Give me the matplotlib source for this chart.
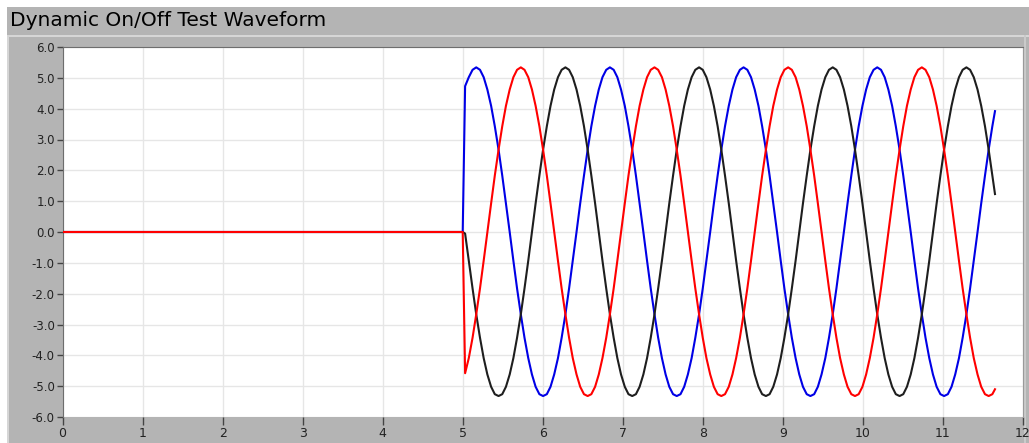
import matplotlib.pyplot as plt
from matplotlib.patches import Rectangle
from matplotlib.ticker import FormatStrFormatter, MultipleLocator

# sample times (s), flat zero until the switch-on at 5 s
t = [0.0, 5.0,
     5.030, 5.076, 5.123, 5.169, 5.216, 5.262, 5.308, 5.355, 5.401, 5.448, 5.494, 5.540,
     5.587, 5.633, 5.679, 5.726, 5.772, 5.819, 5.865, 5.911, 5.958, 6.004, 6.051, 6.097,
     6.143, 6.190, 6.236, 6.283, 6.329, 6.375, 6.422, 6.468, 6.515, 6.561, 6.607, 6.654,
     6.700, 6.746, 6.793, 6.839, 6.886, 6.932, 6.978, 7.025, 7.071, 7.118, 7.164, 7.210,
     7.257, 7.303, 7.349, 7.396, 7.442, 7.489, 7.535, 7.581, 7.628, 7.674, 7.721, 7.767,
     7.813, 7.860, 7.906, 7.953, 7.999, 8.045, 8.092, 8.138, 8.185, 8.231, 8.277, 8.324,
     8.370, 8.416, 8.463, 8.509, 8.556, 8.602, 8.648, 8.695, 8.741, 8.788, 8.834, 8.880,
     8.927, 8.973, 9.019, 9.066, 9.112, 9.159, 9.205, 9.251, 9.298, 9.344, 9.391, 9.437,
     9.483, 9.530, 9.576, 9.623, 9.669, 9.715, 9.762, 9.808, 9.855, 9.901, 9.947, 9.994,
     10.040, 10.086, 10.133, 10.179, 10.226, 10.272, 10.318, 10.365, 10.411, 10.458,
     10.504, 10.550, 10.597, 10.643, 10.689, 10.736, 10.782, 10.829, 10.875, 10.921,
     10.968, 11.014, 11.061, 11.107, 11.153, 11.200, 11.246, 11.293, 11.339, 11.385,
     11.432, 11.478, 11.525, 11.571, 11.617, 11.650]

blue = [0.0, 0.0,
        4.73, 5.02, 5.26, 5.34, 5.26, 5.02, 4.62, 4.09, 3.43, 2.67, 1.83, 0.93,
        0.00, -0.93, -1.83, -2.67, -3.43, -4.09, -4.62, -5.02, -5.26, -5.32, -5.26, -5.02,
        -4.62, -4.09, -3.43, -2.67, -1.83, -0.93, 0.00, 0.93, 1.83, 2.67, 3.43, 4.09,
        4.62, 5.02, 5.26, 5.34, 5.26, 5.02, 4.62, 4.09, 3.43, 2.67, 1.83, 0.93,
        0.00, -0.93, -1.83, -2.67, -3.43, -4.09, -4.62, -5.02, -5.26, -5.32, -5.26, -5.02,
        -4.62, -4.09, -3.43, -2.67, -1.83, -0.93, 0.00, 0.93, 1.83, 2.67, 3.43, 4.09,
        4.62, 5.02, 5.26, 5.34, 5.26, 5.02, 4.62, 4.09, 3.43, 2.67, 1.83, 0.93,
        0.00, -0.93, -1.83, -2.67, -3.43, -4.09, -4.62, -5.02, -5.26, -5.32, -5.26, -5.02,
        -4.62, -4.09, -3.43, -2.67, -1.83, -0.93, 0.00, 0.93, 1.83, 2.67, 3.43, 4.09,
        4.62, 5.02, 5.26, 5.34, 5.26, 5.02, 4.62, 4.09, 3.43, 2.67, 1.83, 0.93,
        0.00, -0.93, -1.83, -2.67, -3.43, -4.09, -4.62, -5.02, -5.26, -5.32, -5.26, -5.02,
        -4.62, -4.09, -3.43, -2.67, -1.83, -0.93, 0.00, 0.93, 1.83, 2.67, 3.43, 3.92]

black = [0.0, 0.0,
         -0.05, -0.93, -1.83, -2.67, -3.43, -4.09, -4.62, -5.02, -5.26, -5.32, -5.26, -5.02,
         -4.62, -4.09, -3.43, -2.67, -1.83, -0.93, 0.00, 0.93, 1.83, 2.67, 3.43, 4.09,
         4.62, 5.02, 5.26, 5.34, 5.26, 5.02, 4.62, 4.09, 3.43, 2.67, 1.83, 0.93,
         0.00, -0.93, -1.83, -2.67, -3.43, -4.09, -4.62, -5.02, -5.26, -5.32, -5.26, -5.02,
         -4.62, -4.09, -3.43, -2.67, -1.83, -0.93, 0.00, 0.93, 1.83, 2.67, 3.43, 4.09,
         4.62, 5.02, 5.26, 5.34, 5.26, 5.02, 4.62, 4.09, 3.43, 2.67, 1.83, 0.93,
         0.00, -0.93, -1.83, -2.67, -3.43, -4.09, -4.62, -5.02, -5.26, -5.32, -5.26, -5.02,
         -4.62, -4.09, -3.43, -2.67, -1.83, -0.93, 0.00, 0.93, 1.83, 2.67, 3.43, 4.09,
         4.62, 5.02, 5.26, 5.34, 5.26, 5.02, 4.62, 4.09, 3.43, 2.67, 1.83, 0.93,
         0.00, -0.93, -1.83, -2.67, -3.43, -4.09, -4.62, -5.02, -5.26, -5.32, -5.26, -5.02,
         -4.62, -4.09, -3.43, -2.67, -1.83, -0.93, 0.00, 0.93, 1.83, 2.67, 3.43, 4.09,
         4.62, 5.02, 5.26, 5.34, 5.26, 5.02, 4.62, 4.09, 3.43, 2.67, 1.83, 1.23]

red = [0.0, 0.0,
       -4.58, -4.09, -3.43, -2.67, -1.83, -0.93, 0.00, 0.93, 1.83, 2.67, 3.43, 4.09,
       4.62, 5.02, 5.26, 5.34, 5.26, 5.02, 4.62, 4.09, 3.43, 2.67, 1.83, 0.93,
       0.00, -0.93, -1.83, -2.67, -3.43, -4.09, -4.62, -5.02, -5.26, -5.32, -5.26, -5.02,
       -4.62, -4.09, -3.43, -2.67, -1.83, -0.93, 0.00, 0.93, 1.83, 2.67, 3.43, 4.09,
       4.62, 5.02, 5.26, 5.34, 5.26, 5.02, 4.62, 4.09, 3.43, 2.67, 1.83, 0.93,
       0.00, -0.93, -1.83, -2.67, -3.43, -4.09, -4.62, -5.02, -5.26, -5.32, -5.26, -5.02,
       -4.62, -4.09, -3.43, -2.67, -1.83, -0.93, 0.00, 0.93, 1.83, 2.67, 3.43, 4.09,
       4.62, 5.02, 5.26, 5.34, 5.26, 5.02, 4.62, 4.09, 3.43, 2.67, 1.83, 0.93,
       0.00, -0.93, -1.83, -2.67, -3.43, -4.09, -4.62, -5.02, -5.26, -5.32, -5.26, -5.02,
       -4.62, -4.09, -3.43, -2.67, -1.83, -0.93, 0.00, 0.93, 1.83, 2.67, 3.43, 4.09,
       4.62, 5.02, 5.26, 5.34, 5.26, 5.02, 4.62, 4.09, 3.43, 2.67, 1.83, 0.93,
       0.00, -0.93, -1.83, -2.67, -3.43, -4.09, -4.62, -5.02, -5.26, -5.32, -5.26, -5.10]

title = "Dynamic On/Off Test Waveform"

W, H = 1029, 443
fig = plt.figure(figsize=(W / 100, H / 100), dpi=100, facecolor="white")

# window panels (pixel coords measured from the top-left)
def px_rect(x0, y0, x1, y1, **kw):
    fig.patches.append(Rectangle((x0 / W, 1 - y1 / H), (x1 - x0) / W, (y1 - y0) / H,
                                 transform=fig.transFigure, zorder=0, **kw))

px_rect(7, 7, W, H, facecolor="#b4b4b4", edgecolor="none")
px_rect(7, 35, W, 36.5, facecolor="#d6d6d6", edgecolor="none")
px_rect(7, 35, 9, H, facecolor="#d6d6d6", edgecolor="none")
px_rect(1024, 35, 1026, H, facecolor="#cacaca", edgecolor="none")

fig.text(10 / W, 1 - 20 / H, title, fontsize=14.5, color="black", va="center", ha="left")

ax = fig.add_axes([62.5 / W, 1 - 417 / H, (1023 - 62.5) / W, (417 - 47) / H])
ax.set_zorder(3)
ax.set_facecolor("white")

ax.plot(t, blue, color="#0000e6", lw=1.5, zorder=3)
ax.plot(t, black, color="#1e1e1e", lw=1.5, zorder=3)
ax.plot(t, red, color="#ff0000", lw=1.5, zorder=4)

ax.set_xlim(0, 12)
ax.set_ylim(-6, 6)
ax.xaxis.set_major_locator(MultipleLocator(1))
ax.yaxis.set_major_locator(MultipleLocator(1))
ax.yaxis.set_major_formatter(FormatStrFormatter("%.1f"))
ax.grid(True, color="#e6e6e6", lw=1)
ax.set_axisbelow(True)

ax.spines["bottom"].set_visible(False)
ax.spines["left"].set_color("#6e6e6e")
ax.spines["top"].set_color("#6e6e6e")
ax.spines["right"].set_color("#9a9a9a")

ax.tick_params(axis="y", direction="out", length=4, width=1, color="#444444",
               labelsize=8.5, pad=1.5, labelcolor="#222222")
ax.tick_params(axis="x", direction="out", length=6, width=1, color="#444444",
               labelsize=9, pad=1, labelcolor="#222222")

fig.savefig("out.png", dpi=100, facecolor=fig.get_facecolor())
